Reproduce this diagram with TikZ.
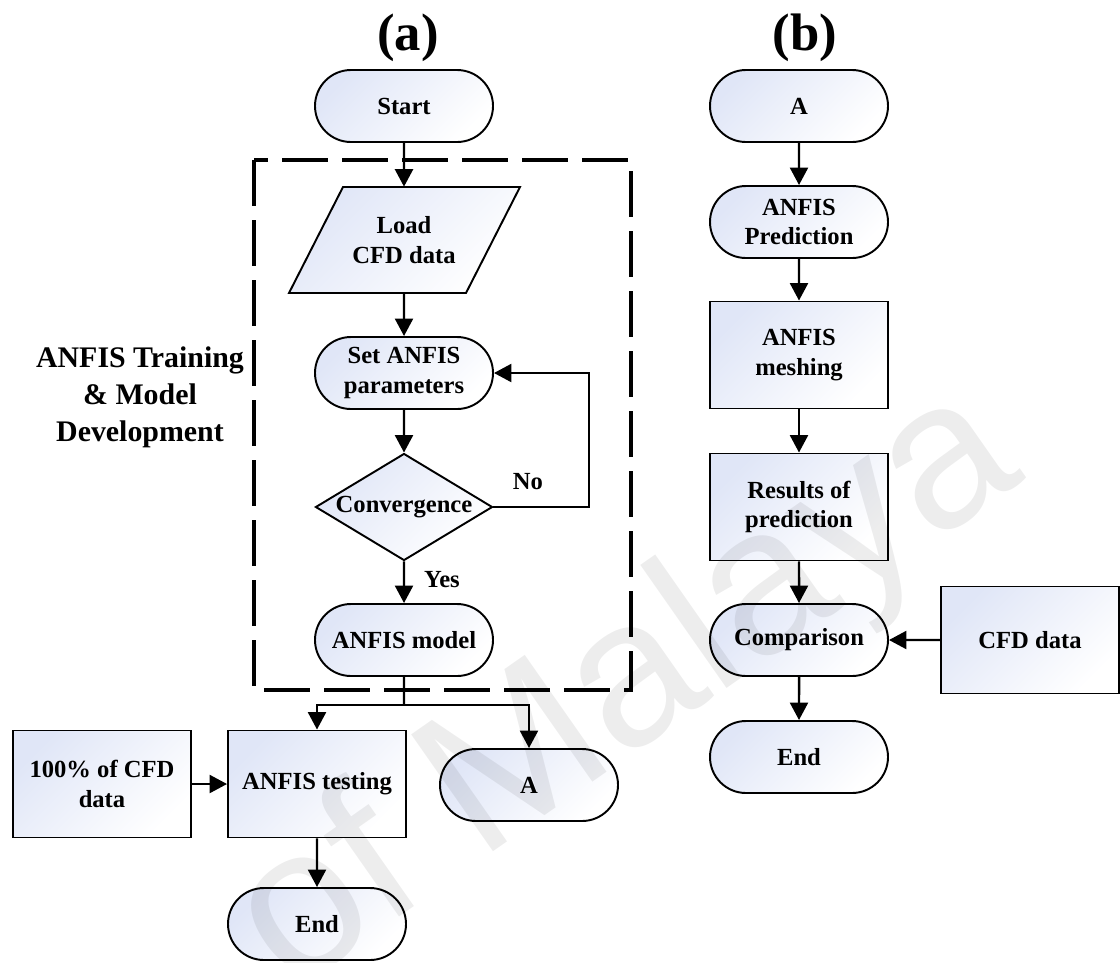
\documentclass[tikz,border=0pt]{standalone}
\usepackage{fontspec}
\setmainfont{Liberation Serif}
\newfontfamily\stampfont{Liberation Sans}
\usetikzlibrary{shapes.geometric,shapes.misc,arrows.meta}
\definecolor{boxtint}{RGB}{224,230,247}

\begin{document}
\begin{tikzpicture}[
  x=0.2mm, y=-0.2mm,
  font=\bfseries\fontsize{14}{17}\selectfont,
  shadefill/.style = {top color=boxtint, bottom color=white, shading angle=45},
  term/.style  = {rounded rectangle, shadefill, draw, line width=1.1pt, align=center,
                  minimum width=35.6mm, minimum height=14.4mm, inner sep=0pt},
  proc/.style  = {rectangle, shadefill, draw, line width=1.1pt, align=center,
                  minimum width=35.6mm, minimum height=21.4mm, inner sep=0pt},
  test/.style  = {diamond, aspect=1.65, shadefill, draw, line width=1.1pt,
                  minimum width=35.4mm, minimum height=21.4mm, inner sep=0pt},
  arr/.style   = {-{Triangle[length=3.5mm,width=3.6mm]}, line width=1.4pt},
  link/.style  = {line width=1.4pt},
  group/.style = {line width=2.3pt, dash pattern=on 9.2mm off 2.8mm},
  title/.style = {font=\bfseries\fontsize{30}{32}\selectfont},
  side/.style  = {font=\bfseries\fontsize{17}{21}\selectfont, align=center},
  stamp/.style = {font=\stampfont\fontsize{118}{118}\selectfont, text=black,
                  opacity=0.07, rotate=35},
]
\useasboundingbox (0,0) rectangle (1120,962);

\def\ca{404}   % column x: flow (a)
\def\cb{799}   % column x: flow (b)

% ---- headers ---------------------------------------------------------------
\node[title] (ta) at (408,38) {(a)};
\node[title] (tb) at (805,38) {(b)};

% ---- (a) training loop -----------------------------------------------------
\node[term] (start) at (\ca,106) {Start};

\draw[group] (254,160) rectangle (631,690);
\node[side] (train) at (140,397) {ANFIS Training\\\& Model\\Development};

\draw[shadefill, line width=1.1pt] (343,187) -- (520,187) -- (466,293) -- (289,293) -- cycle;
\node[align=center, minimum height=21.2mm, inner sep=0pt] (load) at (\ca,240) {Load\\CFD data};

\node[term] (set)   at (\ca,373) {Set ANFIS\\parameters};
\node[test] (conv)  at (\ca,507) {Convergence};
\node[term] (model) at (\ca,640) {ANFIS model};

\coordinate (loop)  at (589,373);
\coordinate (split) at (\ca,705);

\node (no)  at (528,482) {No};
\node (yes) at (442,580) {Yes};

% ---- (a) testing -----------------------------------------------------------
\node[proc] (pct)  at (102,784) {100\% of CFD\\data};
\node[proc] (tst)  at (317,784) {ANFIS testing};
\node[term] (aa)   at (529,785) {A};
\node[term] (enda) at (317,924) {End};

\draw[arr] (start) -- (load);
\draw[arr] (load) -- (set);
\draw[arr] (set) -- (conv);
\draw[arr] (conv) -- (model);
\draw[arr] (conv.east) -| (loop) -- (set.east);
\draw[link] (model) -- (split);
\draw[arr] (split) -| (tst.north);
\draw[arr] (split) -| (aa.north);
\draw[arr] (pct) -- (tst);
\draw[arr] (tst) -- (enda);

% ---- (b) prediction --------------------------------------------------------
\node[term] (ab)   at (\cb,106) {A};
\node[term] (pred) at (\cb,222) {ANFIS\\Prediction};
\node[proc] (mesh) at (\cb,355) {ANFIS\\meshing};
\node[proc] (res)  at (\cb,507) {Results of\\prediction};
\node[term] (comp) at (\cb,640) {Comparison};
\node[proc] (cfd)  at (1030,640) {CFD data};
\node[term] (endb) at (\cb,757) {End};

\draw[arr] (ab) -- (pred);
\draw[arr] (pred) -- (mesh);
\draw[arr] (mesh) -- (res);
\draw[arr] (res) -- (comp);
\draw[arr] (cfd) -- (comp);
\draw[arr] (comp) -- (endb);

% ---- watermark -------------------------------------------------------------
\node[stamp] (wm) at (628,692) {of Malaya};

\end{tikzpicture}
\end{document}
